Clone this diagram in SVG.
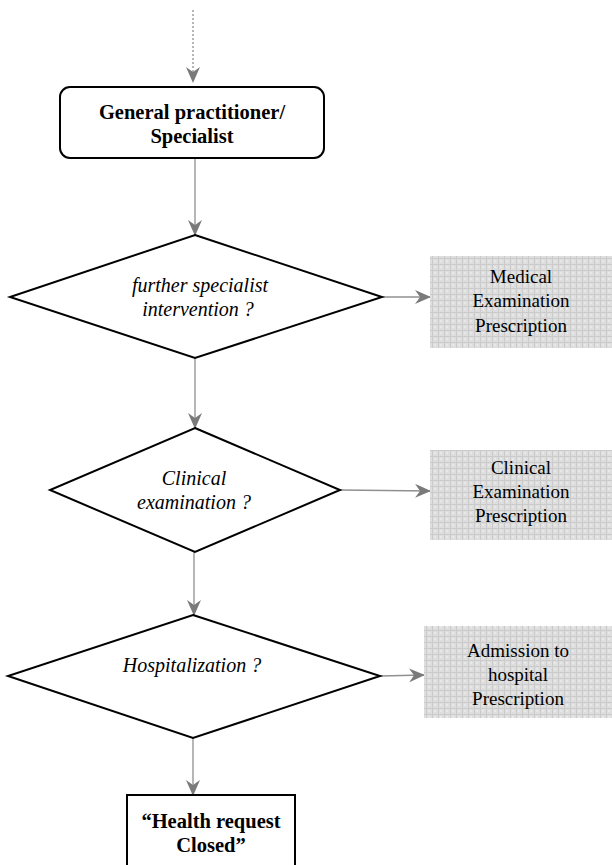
<svg xmlns="http://www.w3.org/2000/svg" width="612" height="865" viewBox="0 0 612 865">
<defs>
<pattern id="grid" width="6" height="6" patternUnits="userSpaceOnUse">
<rect width="6" height="6" fill="#dedede"/>
<path d="M0 0.5H6M0.5 0V6" stroke="#cbcbcb" stroke-width="1"/>
<rect x="2" y="2" width="2" height="2" fill="#e8e8e8"/>
</pattern>
<marker id="arr" markerWidth="16" markerHeight="14" refX="15" refY="7" orient="auto" markerUnits="userSpaceOnUse">
<path d="M0 0L16 7L0 14L5 7Z" fill="#7a7a7a"/>
</marker>
</defs>
<style>
.ln{stroke:#909090;stroke-width:1.3;fill:none}
.dec{fill:#fff;stroke:#000;stroke-width:2}
.gray{fill:url(#grid)}
.b{font-family:"Liberation Serif",serif;font-weight:bold;font-size:20.5px;text-anchor:middle;fill:#000}
.i{font-family:"Liberation Serif",serif;font-style:italic;font-size:20px;text-anchor:middle;fill:#000}
.r{font-family:"Liberation Serif",serif;font-size:19px;text-anchor:middle;fill:#000}
</style>
<g id="connectors">
<line class="ln" x1="193" y1="10" x2="193" y2="82" stroke-dasharray="2,2" marker-end="url(#arr)"/>
<line class="ln" x1="195" y1="158" x2="195" y2="235" marker-end="url(#arr)"/>
<line class="ln" x1="382" y1="297" x2="430" y2="297" marker-end="url(#arr)"/>
<line class="ln" x1="195" y1="358" x2="195" y2="428" marker-end="url(#arr)"/>
<line class="ln" x1="340" y1="490" x2="430" y2="491" marker-end="url(#arr)"/>
<line class="ln" x1="194" y1="552" x2="194" y2="615" marker-end="url(#arr)"/>
<line class="ln" x1="380" y1="676" x2="424" y2="675" marker-end="url(#arr)"/>
<line class="ln" x1="193" y1="738" x2="193" y2="795" marker-end="url(#arr)"/>
</g>
<g id="gp">
<rect x="60" y="87" width="264" height="71" rx="10" fill="#fff" stroke="#000" stroke-width="2"/>
<text class="b" x="192" y="119">General practitioner/</text>
<text class="b" x="192" y="143">Specialist</text>
</g>
<g id="d1">
<polygon class="dec" points="195,235 382,297 195,358 10,297"/>
<text class="i" x="200" y="292">further specialist</text>
<text class="i" x="198" y="316">intervention ?</text>
</g>
<g id="b1">
<rect class="gray" x="430" y="256" width="182" height="92"/>
<text class="r" x="521" y="283">Medical</text>
<text class="r" x="521" y="307">Examination</text>
<text class="r" x="521" y="332">Prescription</text>
</g>
<g id="d2">
<polygon class="dec" points="195,428 340,490 195,552 50,490"/>
<text class="i" x="194" y="485">Clinical</text>
<text class="i" x="194" y="509">examination ?</text>
</g>
<g id="b2">
<rect class="gray" x="430" y="450" width="182" height="90"/>
<text class="r" x="521" y="474">Clinical</text>
<text class="r" x="521" y="498">Examination</text>
<text class="r" x="521" y="522">Prescription</text>
</g>
<g id="d3">
<polygon class="dec" points="193,615 380,676 193,738 8,676"/>
<text class="i" x="192" y="672">Hospitalization ?</text>
</g>
<g id="b3">
<rect class="gray" x="424" y="626" width="188" height="92"/>
<text class="r" x="518" y="657">Admission to</text>
<text class="r" x="518" y="681">hospital</text>
<text class="r" x="518" y="705">Prescription</text>
</g>
<g id="end">
<rect x="127" y="795" width="168" height="72" fill="#fff" stroke="#000" stroke-width="2"/>
<text class="b" x="211" y="828">“Health request</text>
<text class="b" x="211" y="852">Closed”</text>
</g>
</svg>
